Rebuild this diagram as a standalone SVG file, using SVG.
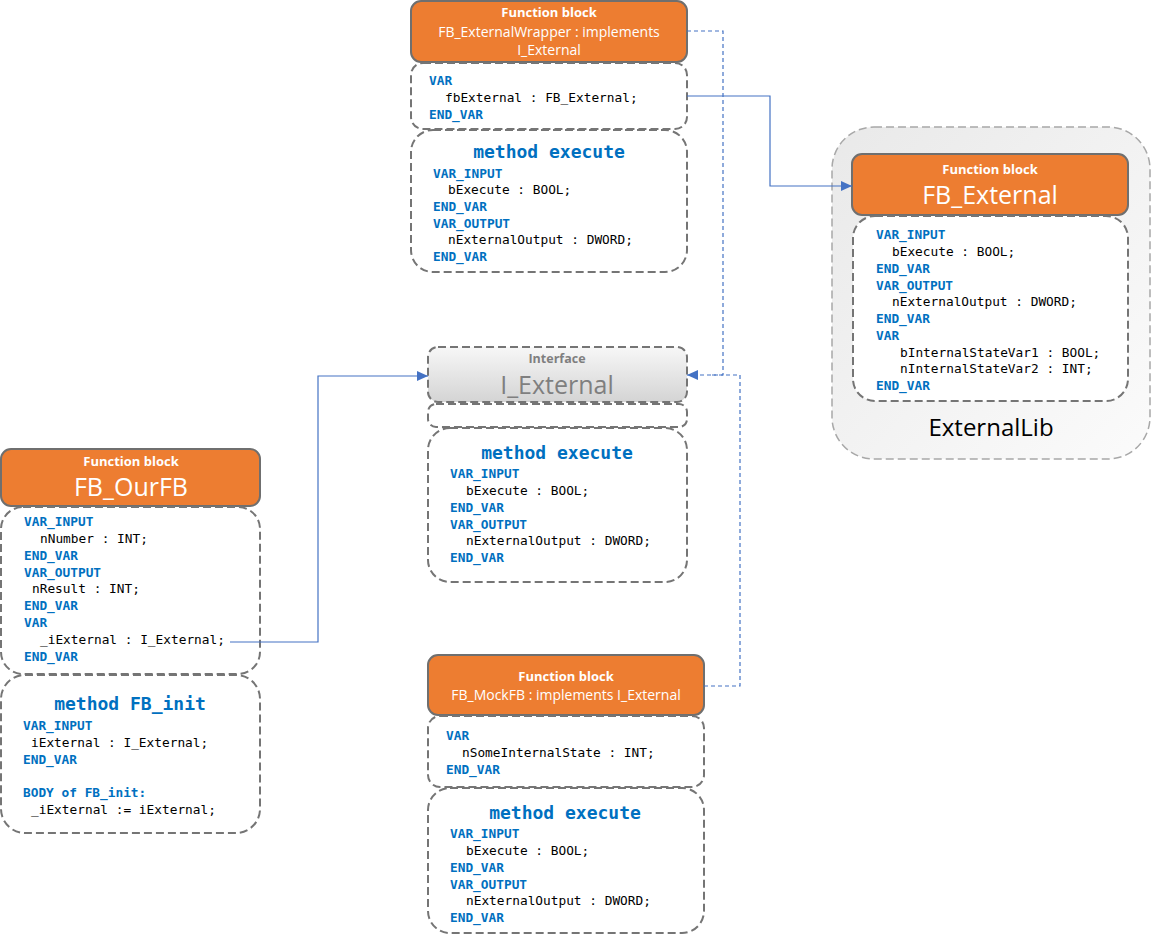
<svg xmlns="http://www.w3.org/2000/svg" width="1152" height="935" viewBox="0 0 1152 935">
<defs>
<style>
.hdr{fill:#ED7D31;stroke:#6F6F6F;stroke-width:2}
.box{fill:#FFFFFF;stroke:#757575;stroke-width:2;stroke-dasharray:8 4}
.ifh{fill:url(#gIf);stroke:#757575;stroke-width:2;stroke-dasharray:8 4}
.lib{fill:url(#gLib);stroke:#A8A8A8;stroke-width:1.5;stroke-dasharray:8 4}
.fbl{font-family:"Open Sans","Noto Sans",sans-serif;font-weight:bold;font-size:13px;fill:#FFFFFF;text-anchor:middle}
.hn{font-family:"Open Sans","Noto Sans",sans-serif;font-size:14px;fill:#FFFFFF;text-anchor:middle}
.hb{font-family:"Open Sans","Noto Sans",sans-serif;font-size:25px;fill:#FFFFFF;text-anchor:middle}
.kw{font-family:"DejaVu Sans Mono","Liberation Mono",monospace;font-weight:bold;font-size:12.8px;fill:#0070C0}
.cd{font-family:"DejaVu Sans Mono","Liberation Mono",monospace;font-size:12.8px;fill:#000000}
.mt{font-family:"DejaVu Sans Mono","Liberation Mono",monospace;font-weight:bold;font-size:18px;fill:#0070C0;text-anchor:middle}
.cn{fill:none;stroke:#4472C4;stroke-width:1.2}
.cnd{fill:none;stroke:#4472C4;stroke-width:1.2;stroke-dasharray:4 3}
</style>
<linearGradient id="gIf" x1="0" y1="0" x2="0" y2="1">
<stop offset="0" stop-color="#F7F7F7"/>
<stop offset="1" stop-color="#D4D4D4"/>
</linearGradient>
<linearGradient id="gLib" x1="0" y1="0" x2="1" y2="1">
<stop offset="0" stop-color="#E9E9E9"/>
<stop offset="1" stop-color="#FBFBFB"/>
</linearGradient>
<marker id="arr" markerUnits="userSpaceOnUse" markerWidth="12" markerHeight="10" refX="11" refY="5" orient="auto">
<path d="M0,0 L11,5 L0,10 z" fill="#4472C4"/>
</marker>
</defs>
<rect width="1152" height="935" fill="#FFFFFF"/>

<g id="externallib">
<rect class="lib" x="832" y="127" width="318" height="332" rx="42"/>
<text x="991" y="436" font-family="Open Sans,Noto Sans,sans-serif" font-size="24" fill="#000" text-anchor="middle">ExternalLib</text>
</g>

<g id="fb_externalwrapper">
<rect class="hdr" x="411" y="1" width="276" height="61" rx="10"/>
<text class="fbl" x="549" y="17">Function block</text>
<text class="hn" x="549" y="37">FB_ExternalWrapper : implements</text>
<text class="hn" x="549" y="55">I_External</text>
<rect class="box" x="411" y="63" width="276" height="66" rx="12"/>
<text class="kw" x="429" y="85">VAR</text>
<text class="cd" x="445" y="102">fbExternal : FB_External;</text>
<text class="kw" x="429" y="119">END_VAR</text>
<rect class="box" x="411" y="130" width="276" height="142" rx="22"/>
<text class="mt" x="549" y="158">method execute</text>
<text class="kw" x="433" y="178">VAR_INPUT</text>
<text class="cd" x="448" y="194">bExecute : BOOL;</text>
<text class="kw" x="433" y="211">END_VAR</text>
<text class="kw" x="433" y="228">VAR_OUTPUT</text>
<text class="cd" x="448" y="244">nExternalOutput : DWORD;</text>
<text class="kw" x="433" y="261">END_VAR</text>
</g>

<g id="fb_external">
<rect class="hdr" x="852" y="154" width="276" height="61" rx="10"/>
<text class="fbl" x="990" y="174">Function block</text>
<text class="hb" x="990" y="204">FB_External</text>
<rect class="box" x="853" y="216" width="275" height="185" rx="22"/>
<text class="kw" x="876" y="239">VAR_INPUT</text>
<text class="cd" x="892" y="256">bExecute : BOOL;</text>
<text class="kw" x="876" y="273">END_VAR</text>
<text class="kw" x="876" y="290">VAR_OUTPUT</text>
<text class="cd" x="892" y="306">nExternalOutput : DWORD;</text>
<text class="kw" x="876" y="323">END_VAR</text>
<text class="kw" x="876" y="340">VAR</text>
<text class="cd" x="900" y="357">bInternalStateVar1 : BOOL;</text>
<text class="cd" x="900" y="373">nInternalStateVar2 : INT;</text>
<text class="kw" x="876" y="390">END_VAR</text>
</g>

<g id="i_external">
<rect class="ifh" x="428" y="347" width="259" height="55" rx="10"/>
<text x="557" y="363" font-family="Open Sans,Noto Sans,sans-serif" font-weight="bold" font-size="12.5" fill="#7F7F7F" text-anchor="middle">Interface</text>
<text x="557" y="394" font-family="Open Sans,Noto Sans,sans-serif" font-size="25" fill="#7F7F7F" text-anchor="middle">I_External</text>
<rect class="box" x="428" y="404" width="259" height="23" rx="8"/>
<rect class="box" x="428" y="428" width="259" height="154" rx="22"/>
<text class="mt" x="557" y="459">method execute</text>
<text class="kw" x="450" y="478">VAR_INPUT</text>
<text class="cd" x="466" y="495">bExecute : BOOL;</text>
<text class="kw" x="450" y="512">END_VAR</text>
<text class="kw" x="450" y="529">VAR_OUTPUT</text>
<text class="cd" x="466" y="545">nExternalOutput : DWORD;</text>
<text class="kw" x="450" y="562">END_VAR</text>
</g>

<g id="fb_ourfb">
<rect class="hdr" x="1" y="449" width="259" height="57" rx="10"/>
<text class="fbl" x="131" y="466">Function block</text>
<text class="hb" x="131" y="496">FB_OurFB</text>
<rect class="box" x="1" y="507" width="259" height="167" rx="22"/>
<text class="kw" x="24" y="526">VAR_INPUT</text>
<text class="cd" x="40" y="543">nNumber : INT;</text>
<text class="kw" x="24" y="560">END_VAR</text>
<text class="kw" x="24" y="577">VAR_OUTPUT</text>
<text class="cd" x="32" y="593">nResult : INT;</text>
<text class="kw" x="24" y="610">END_VAR</text>
<text class="kw" x="24" y="627">VAR</text>
<text class="cd" x="40" y="644">_iExternal : I_External;</text>
<text class="kw" x="24" y="661">END_VAR</text>
<rect class="box" x="1" y="675" width="259" height="158" rx="24"/>
<text class="mt" x="130" y="710" font-size="19.8">method FB_init</text>
<text class="kw" x="23" y="730">VAR_INPUT</text>
<text class="cd" x="31" y="747">iExternal : I_External;</text>
<text class="kw" x="23" y="764">END_VAR</text>
<text class="kw" x="23" y="797">BODY of FB_init:</text>
<text class="cd" x="31" y="814">_iExternal := iExternal;</text>
</g>

<g id="fb_mockfb">
<rect class="hdr" x="428" y="655" width="276" height="60" rx="10"/>
<text class="fbl" x="566" y="681">Function block</text>
<text class="hn" x="566" y="700">FB_MockFB : implements I_External</text>
<rect class="box" x="428" y="716" width="276" height="71" rx="12"/>
<text class="kw" x="446" y="740">VAR</text>
<text class="cd" x="462" y="757">nSomeInternalState : INT;</text>
<text class="kw" x="446" y="774">END_VAR</text>
<rect class="box" x="428" y="788" width="276" height="145" rx="22"/>
<text class="mt" x="565" y="819">method execute</text>
<text class="kw" x="450" y="838">VAR_INPUT</text>
<text class="cd" x="466" y="855">bExecute : BOOL;</text>
<text class="kw" x="450" y="872">END_VAR</text>
<text class="kw" x="450" y="889">VAR_OUTPUT</text>
<text class="cd" x="466" y="905">nExternalOutput : DWORD;</text>
<text class="kw" x="450" y="922">END_VAR</text>
</g>

<g id="connectors">
<polyline class="cn" points="687,96 770,96 770,186 852,186" marker-end="url(#arr)"/>
<polyline class="cn" points="230,642 318,642 318,376 428,376" marker-end="url(#arr)"/>
<polyline class="cnd" points="687,31 723,31 723,375 687,375" marker-end="url(#arr)"/>
<polyline class="cnd" points="704,686 740,686 740,375 712,375"/>
</g>
</svg>
